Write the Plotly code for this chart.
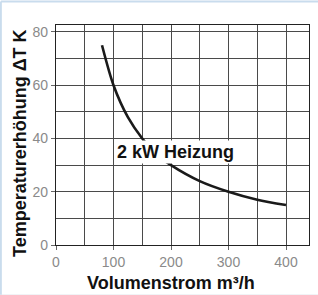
import plotly.graph_objects as go

# Data
volumenstrom = [80, 100, 125, 150, 175, 200, 250, 300, 350, 400]
delta_t = [75, 60, 48, 40, 34, 30, 24, 20, 17, 15]
x_ticks = [0, 100, 200, 300, 400]
y_ticks = [0, 20, 40, 60, 80]
label_text = "2 kW Heizung"
x_title = "Volumenstrom m³/h"
y_title = "Temperaturerhöhung ΔT K"

FONT = "Liberation Sans, Arial, Helvetica, sans-serif"
GRID = "#4a4a4a"

fig = go.Figure()
fig.add_trace(go.Scatter(
    x=volumenstrom, y=delta_t, mode="lines",
    line=dict(color="#1a1a1a", width=2.6, shape="spline", smoothing=0.8),
    hoverinfo="skip", showlegend=False,
))

fig.add_annotation(
    x=207, y=35.1, xref="x", yref="y", text=f"<b>{label_text}</b>",
    showarrow=False, bgcolor="white", borderpad=1,
    font=dict(family=FONT, size=18, color="#111"),
)
fig.add_annotation(
    x=0.453, y=-0.172, xref="paper", yref="paper", text=f"<b>{x_title}</b>",
    showarrow=False, xanchor="center", yanchor="middle",
    font=dict(family=FONT, size=18, color="#111"),
)
fig.add_annotation(
    x=-0.142, y=0.464, xref="paper", yref="paper", text=f"<b>{y_title}</b>",
    showarrow=False, xanchor="center", yanchor="middle", textangle=-90,
    font=dict(family=FONT, size=18, color="#111"),
)

axis_common = dict(
    showline=True, linecolor="#222", linewidth=1.2, mirror=True,
    ticks="outside", ticklen=4, tickcolor="#666", tickwidth=1,
    showgrid=True, gridcolor=GRID, gridwidth=1,
    zeroline=False, automargin=False,
    tickfont=dict(family=FONT, size=14, color="#8a8a8a"),
)

fig.update_xaxes(
    range=[0, 440], tickvals=x_ticks,
    minor=dict(dtick=50, tick0=0, showgrid=True, gridcolor=GRID, gridwidth=1, ticks=""),
    **axis_common,
)
fig.update_yaxes(
    range=[0, 82.6], tickvals=y_ticks,
    minor=dict(dtick=10, tick0=0, showgrid=True, gridcolor=GRID, gridwidth=1, ticks=""),
    **axis_common,
)

# light blue frame at top/left, light band at bottom
fig.add_shape(type="line", xref="paper", yref="paper", x0=-0.218, x1=1.04, y0=1.107, y1=1.107,
              line=dict(color="#c9dced", width=2))
fig.add_shape(type="line", xref="paper", yref="paper", x0=-0.218, x1=-0.218, y0=-0.23, y1=1.107,
              line=dict(color="#c9dced", width=2))
fig.add_shape(type="rect", xref="paper", yref="paper", x0=-0.23, x1=1.04, y0=-0.225, y1=-0.26,
              line=dict(width=0), fillcolor="#e3e8ee")

fig.update_layout(
    width=318, height=295,
    margin=dict(l=56, r=9, t=25, b=50),
    paper_bgcolor="white", plot_bgcolor="white",
    font=dict(family=FONT),
)

fig.write_html("out.html",
               config={"displayModeBar": False},
               post_script="document.body.style.margin='0';document.body.style.overflow='hidden';")
